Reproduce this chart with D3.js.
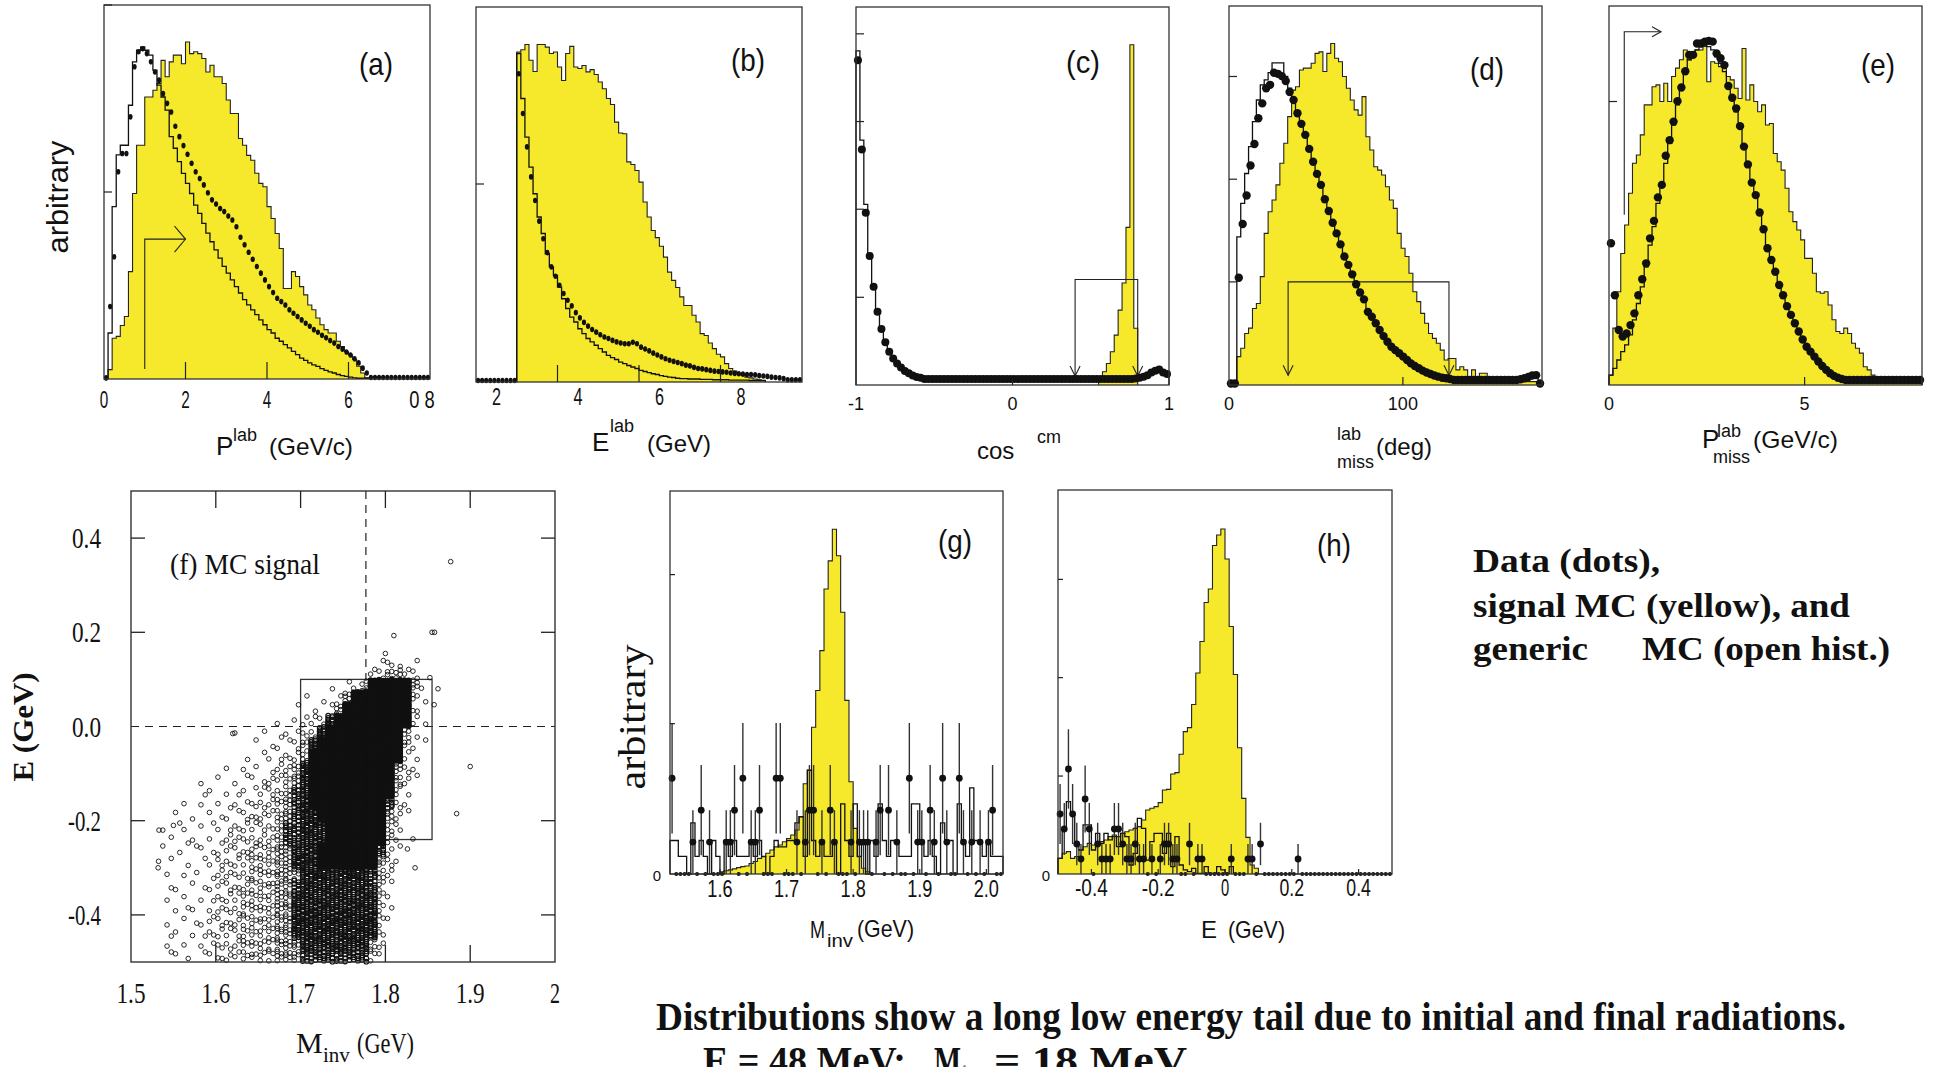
<!DOCTYPE html>
<html>
<head>
<meta charset="utf-8">
<script src="https://cdn.jsdelivr.net/npm/d3@7"></script>
<style>body{margin:0;background:#fff}</style>
</head>
<body>
<svg id="chart" width="1933" height="1067"></svg>
<script>
// ---- data: top row (heights in arbitrary units, 0-100 = frame height) ----
var aSignalX0 = 0.1, aStep = 0.1;
var aSignal = [2.5,10.9,11.4,14.3,16.7,28.7,49.6,62.5,62.5,75.4,75.4,77.2,79.0,85.2,80.8,84.8,86.6,86.6,84.3,90.1,87.0,87.5,87.0,85.7,82.1,83.9,80.8,80.8,79.0,74.6,71.0,71.0,64.3,62.5,59.8,58.5,55.0,52.3,51.4,46.1,42.9,38.9,34.9,24.2,24.2,28.7,27.4,24.7,22.5,19.8,18.5,16.3,14.5,13.2,12.3,12.3,10.1,8.7,7.3,6.4,5.2,3.4,1.6,0.3];
var aGeneric = [12.3,46.1,59.9,62.5,62.5,73.2,84.8,87.9,88.8,87.9,86.6,82.6,78.6,75.4,71.9,64.8,61.7,58.1,55.0,52.3,49.6,46.5,44.3,41.6,39.0,36.7,34.5,32.3,30.1,28.3,26.5,24.7,23.0,21.2,19.8,18.5,17.2,15.8,14.5,13.2,12.3,10.9,10.1,9.2,8.3,7.4,6.5,5.6,5.0,4.3,3.8,3.4,2.8,2.3,1.9,1.6,1.2,0.9,0.7,0.5,0.3,0.2,0.2,0.2];
var aDataX0 = 0;
var aData = [0.3,19.4,32.7,55.4,60.3,60.3,70.1,83.5,87.5,88.3,87.0,84.8,82.1,79.9,76.3,73.7,71.4,67.6,64.8,62.4,60.1,57.7,55.4,53.6,51.9,49.8,47.9,46.8,45.6,44.8,43.6,42.5,40.7,37.9,35.9,33.9,32.0,30.1,28.3,26.5,24.7,23.1,21.6,20.7,19.8,18.5,17.6,16.7,15.8,14.9,14.1,13.2,12.5,11.7,11.0,10.3,9.6,8.7,8.0,7.2,6.4,5.4,4.3,2.9,1.6,0.4,0.4,0.4,0.4,0.4,0.4,0.4,0.4,0.4,0.4,0.4,0.4,0.4,0.4,0.4];
var aTickVals = [0,2,4,6,8], aTickText = ['0','2','4','6','0 8'];

var bSignalX0 = 2.5, bStep = 0.1;
var bSignal = [88.0,88.6,90.0,85.8,82.8,90.0,90.0,89.3,87.6,88.0,84.0,80.4,87.6,89.5,84.0,83.6,84.4,82.7,83.3,82.0,80.0,78.2,75.6,74.0,69.3,66.4,66.2,58.7,58.0,56.4,53.3,48.0,44.0,40.4,38.5,36.2,33.3,29.3,27.1,25.2,22.7,20.4,20.4,17.8,16.0,12.9,12.4,10.4,8.9,7.4,6.7,4.9,3.6,2.9,2.2,1.8,1.3,1.1,0.8,0.6,0.4];
var bGeneric = [87.6,75.6,65.3,57.3,50.2,44.0,39.6,34.2,30.7,28.4,25.3,22.2,19.6,17.3,16.0,14.2,12.9,11.6,10.7,9.8,8.9,8.0,7.1,6.5,6.0,5.3,4.9,4.4,4.0,3.6,3.1,2.8,2.5,2.2,2.0,1.7,1.5,1.3,1.2,1.0,0.9,0.9,0.8,0.8,0.8,0.7,0.7,0.7,0.6,0.6,0.6,0.6,0.5,0.5,0.5,0.5,0.5,0.4,0.4,0.4,0.4];
var bDataX0 = 1.5;
var bData = [0.4,0.4,0.4,0.4,0.4,0.4,0.4,0.4,0.4,0.4,82.2,71.6,62.7,54.7,48.4,42.9,38.2,34.5,30.7,28.2,25.8,23.6,21.8,20.3,18.5,17.1,15.9,14.9,14.0,13.3,12.6,12.0,11.6,11.1,10.7,10.4,10.2,10.2,10.6,10.2,9.3,8.8,8.3,7.7,7.2,6.7,6.2,5.8,5.5,5.2,4.9,4.5,4.3,3.9,3.6,3.5,3.3,3.1,2.9,2.8,2.7,2.6,2.4,2.3,2.2,2.1,2.0,2.0,1.9,1.7,1.6,1.5,1.3,1.2,1.1,0.9,0.6,0.6,0.6,0.6];
var bTickVals = [2,4,6,8], bTickText = ['2','4','6','8'];

var cX0 = -1, cStep = 0.025;
var cGeneric = [88.4,64.8,47.8,34.8,25.8,19.4,14.5,11.0,8.8,7.0,5.7,4.6,3.7,3.1,2.6,2.2,1.9,1.8,1.5,1.5,1.5,1.5,1.5,1.5,1.5,1.5,1.5,1.5,1.5,1.5,1.5,1.5,1.5,1.5,1.5,1.5,1.5,1.5,1.5,1.5,1.5,1.5,1.5,1.5,1.5,1.5,1.5,1.5,1.5,1.5,1.5,1.5,1.5,1.5,1.5,1.5,1.5,1.5,1.5,1.5,1.5,1.5,1.5,1.5,1.5,1.5,1.5,1.5,1.5,1.6,1.6,1.7,1.9,2.2,2.6,3.3,3.8,4.1,3.3,2.9];
var cData = [85.9,62.3,45.6,34.1,26.0,19.4,14.8,11.3,8.8,7.0,5.7,4.6,3.7,3.1,2.5,2.1,1.9,1.6,1.6,1.6,1.6,1.6,1.6,1.6,1.6,1.6,1.6,1.6,1.6,1.6,1.6,1.6,1.6,1.6,1.6,1.6,1.6,1.6,1.6,1.6,1.6,1.6,1.6,1.6,1.6,1.6,1.6,1.6,1.6,1.6,1.6,1.6,1.6,1.6,1.6,1.6,1.6,1.6,1.6,1.6,1.6,1.6,1.6,1.6,1.6,1.6,1.6,1.6,1.6,1.6,1.6,1.7,1.9,2.2,2.6,3.3,3.8,4.1,3.3,2.9];
var cSignalX0 = 0.55;
var cSignal = [1.8,3.5,5.7,8.8,13.2,19.8,27.0,41.7,90.0,15.0];
var cTickVals = [-1,0,1], cTickText = ['-1','0','1'];

var dStep = 2.25;
var dGeneric = [0,0,39.1,47.9,55.8,62.9,69.5,75.2,79.2,80.5,82.4,85.0,85.0,85.0,81.4,78.3,75.2,71.7,68.6,65.5,62.0,58.7,55.4,52.3,48.8,45.7,42.7,39.8,36.9,33.9,31.4,29.0,26.4,24.2,22.4,19.3,17.9,16.1,14.3,12.8,11.3,10.0,9.1,8.3,7.4,6.5,5.6,4.9,4.3,3.7,3.2,2.8,2.4,2.1,1.8,1.7,1.4,1.4,1.4,1.4,1.4,1.4,1.4,1.4,1.4,1.4,1.4,1.4,1.4,1.4,1.4,1.4,1.4,1.4,1.5,1.8,2.1,2.5,2.6,0.4];
var dData = [0.4,0.4,28.3,42.5,50.0,57.9,63.6,70.4,74.3,78.3,79.2,82.4,82.1,81.5,80.2,77.3,75.2,71.7,68.9,66.0,62.3,58.9,55.7,52.8,49.0,45.9,42.8,40.0,37.1,33.9,31.7,29.2,26.6,24.4,22.6,19.3,18.0,16.3,14.5,12.9,11.4,10.1,9.2,8.4,7.5,6.6,5.7,5.0,4.4,3.8,3.3,2.9,2.5,2.2,1.9,1.8,1.6,1.3,1.3,1.3,1.3,1.3,1.3,1.3,1.3,1.3,1.3,1.3,1.3,1.3,1.3,1.3,1.3,1.3,1.5,1.8,2.1,2.5,2.6,0.4];
var dSignal = [0,0,7.5,9.7,13.6,15.0,20.2,21.5,28.6,40.0,45.7,48.8,52.8,58.5,63.8,70.8,77.8,78.7,83.1,83.6,83.6,84.9,87.5,87.9,82.7,87.5,90.1,86.2,85.3,81.4,78.3,75.2,72.6,71.2,76.1,65.5,62.0,57.6,56.7,55.4,52.3,48.8,46.6,40.0,36.1,33.9,29.5,24.6,22.0,18.9,16.3,13.6,12.3,11.0,9.2,6.6,7.0,7.0,4.0,4.8,4.0,2.2,4.0,1.8,3.1,3.1,1.8,0.9,0.9,0.9,0.9,0.9,0.9,0.9,0.9,0.9,0.9,0.9,0.9,0.9];
var dTickVals = [0,100], dTickText = ['0','100'];

var eStep = 0.1;
var eGeneric = [2.6,4.4,6.6,8.8,10.6,13.2,17.2,21.5,25.9,31.2,36.9,41.8,47.9,52.3,58.5,63.8,68.6,73.9,77.8,82.2,85.8,87.5,88.4,89.3,89.7,89.3,88.4,86.6,84.9,82.7,78.3,75.2,72.1,67.7,62.4,57.6,53.2,49.7,45.3,40.9,36.1,32.8,29.7,26.2,23.6,20.7,18.3,16.1,13.9,11.9,9.9,8.6,7.3,6.0,4.8,3.8,2.9,2.2,1.8,1.5,1.3,1.3,1.3,1.3,1.3,1.3,1.3,1.3,1.3,1.3,1.3,1.3,1.3,1.3,1.3,1.3,1.3,1.3,1.3,1.3];
var eData = [37.4,23.7,14.5,12.8,13.6,15.8,18.9,23.7,27.9,32.1,38.7,43.3,49.5,52.8,60.5,64.6,69.5,74.9,78.5,82.8,87.1,87.1,90.1,90.1,90.6,90.8,90.6,87.5,86.2,84.4,78.9,75.8,73.0,68.3,62.9,58.2,53.4,50.1,45.5,41.1,36.1,33.0,29.9,26.4,23.7,20.8,18.5,16.3,14.1,12.0,10.1,8.8,7.5,6.2,5.0,4.0,3.1,2.4,1.9,1.6,1.3,1.3,1.3,1.3,1.3,1.3,1.3,1.3,1.3,1.3,1.3,1.3,1.3,1.3,1.3,1.3,1.3,1.3,1.3,1.3];
var eSignal = [2.6,15.0,24.6,34.7,42.2,50.6,58.5,60.7,66.0,73.9,73.9,78.7,79.2,74.8,79.6,74.8,81.4,83.6,85.8,88.4,85.8,87.9,88.4,88.4,89.3,80.0,85.3,84.9,84.0,84.0,81.4,80.5,78.3,75.6,88.8,75.2,79.2,74.8,72.1,73.9,68.6,69.0,61.1,58.9,56.7,51.9,45.7,43.1,40.9,38.3,33.4,33.4,29.5,24.6,24.2,24.6,21.1,17.2,14.1,13.6,15.0,13.6,11.0,9.7,8.4,4.8,4.0,2.6,1.0,1.0,1.0,1.0,1.0,1.0,1.0,1.0,1.0,1.0,1.0,1.0];
var eTickVals = [0,5], eTickText = ['0','5'];

// ---- data: (g) M_inv and (h) delta E, in entries per bin ----
var gX0 = 1.525, gStep = 0.00625;
var gSignal = [0,0,0,0,0,0,0,0,0,0,0,0,0.07,0.1,0.13,0.16,0.2,0.23,0.25,0.33,0.39,0.49,0.54,0.65,0.75,0.85,0.91,1.01,1.11,1.22,1.38,1.79,2.83,3.25,4.6,5.75,7.0,8.93,9.81,10.8,9.97,8.2,5.44,2.89,1.43,0.54,0.18,0.07,0,0,0,0,0,0,0,0,0,0,0,0,0,0,0,0,0,0,0,0,0,0,0,0,0,0,0,0,0,0,0,0];
var gGeneric = [1.05,1.05,0.55,0.55,0,1.6,0.55,1.05,0.55,0,1.05,0.55,0,1.05,0.55,1.05,0.55,0.55,0.55,1.05,0.55,1.05,0.55,0,0.55,1.05,0.85,0.85,1.05,1.05,1.6,1.8,0.55,3.25,1.05,0.55,1.05,0.55,0.55,1.05,0,2.2,1.05,0.55,2.2,0.55,1.05,0,1.05,0.55,2.2,1.05,0.55,1.05,1.05,0.55,0.55,0.55,2.2,2.2,1.05,0.55,1.05,0.55,0,1.6,1.05,1.05,0,2.2,1.05,0.55,2.7,1.05,1.05,0.55,1.05,0.55,0.55,0.55];
var gData = [3,0,0,0,0,1,0,2,0,1,0,0,0,1,1,2,0,3,0,1,1,2,0,0,0,3,3,0,0,0,1,0,1,2,2,0,1,0,2,1,0,0,0,1,0,1,1,1,0,1,2,0,2,0,1,0,0,3,0,1,1,0,2,1,0,3,1,0,0,3,1,0,1,0,1,0,1,2,0,0];
var gTickVals = [1.6,1.7,1.8,1.9,2.0], gTickText = ['1.6','1.7','1.8','1.9','2.0'];

var hX0 = -0.5, hStep = 0.0125;
var hSignal = [1.04,1.38,1.49,1.04,1.16,1.6,1.82,2.04,1.93,2.16,2.16,2.27,2.49,2.6,2.49,2.71,2.82,2.93,3.04,3.16,3.6,4.27,4.38,4.49,4.76,5.6,5.64,6.67,6.76,7.98,9.49,9.76,11.3,13.4,15.5,18.1,19.0,21.9,22.6,23.0,21.0,16.5,13.3,8.42,5.04,2.44,0.6,0.38,0,0,0,0,0,0,0,0,0,0,0,0,0,0,0,0,0,0,0,0,0,0,0,0,0,0,0,0,0,0,0,0];
var hGeneric = [1.04,3.04,4.82,3.93,2.04,1.6,3.27,3.27,1.6,2.71,2.04,2.71,2.27,2.49,1.82,2.71,2.49,0.6,1.38,3.71,3.04,0.93,2.16,2.71,2.71,1.38,2.71,0.49,2.49,0.6,0.27,0.16,0.38,0.04,0.04,0.49,0.04,0.04,0.49,0.27,0.04,0.49];
var hData = [4,3,7,4,2,1,5,3,0,2,1,1,1,3,3,2,1,1,2,1,1,0,1,0,1,2,2,1,1,0,0,2,0,1,1,0,0,0,0,0,0,1,0,0,0,1,1,0,2,0,0,0,0,0,0,0,0,1,0,0,0,0,0,0,0,0,0,0,0,0,0,0,0,0,0,0,0,0,0,0];
var hTickVals = [-0.4,-0.2,0,0.2,0.4], hTickText = ['-0.4','-0.2','0','0.2','0.4'];

// ---- data: (f) MC signal scatter, density level per cell (0.01 GeV wide, 0.025 GeV tall),
//      columns from M=1.50 to 1.90, rows from E=+0.15 downwards ----
var fRows = [
  ['0000000000','0000000000','0000000001','2101000000'],
  ['0000000000','0000000000','0000000033','5533010000'],
  ['0000000000','0000000000','0001011599','9996100000'],
  ['0000000000','0000000000','1010169999','9994100000'],
  ['0000000000','0000000001','0101699999','9993010000'],
  ['0000000000','0000000101','2238999999','9992100000'],
  ['0000000000','0010010111','3389999999','9951000000'],
  ['0000000000','0000101112','4899999999','9941100000'],
  ['0000000000','0001011123','5999999999','9931000000'],
  ['0000000000','0101101235','8999999999','9621000000'],
  ['0000000010','1011112246','8999999999','9521000000'],
  ['0000000011','0111122357','8999999999','9410000000'],
  ['0000001010','1111222467','8999999999','7310000000'],
  ['0000010101','1112223567','8899999999','6210000000'],
  ['0001011011','1122233577','8889999999','5200000000'],
  ['0000101101','1222333577','8889999999','4101000000'],
  ['0001010111','1222444668','8899999997','3100000000'],
  ['0001101011','2222444668','8899999996','2100000000'],
  ['0000101101','2222444666','8888888875','2000000000'],
  ['0000110111','2223444667','8888888874','1000000000'],
  ['0000101011','2224444668','8888888884','1000000000'],
  ['0000011101','2224444668','8888888883','1000000000'],
  ['0000101112','2224444668','8888888884','1000000000'],
  ['0000110112','2224444668','8888888883','0000000000'],
  ['0000101011','2224444666','8888888852','0000000000'],
  ['0000111011','2224444666','7777777741','0000000000']
].map(function(g) { return g.join(''); });
var fPerLevel = [0,1,2,2,3,4,5,8,12,16];
var fOutliers = [[1.877,0.35],[1.855,0.2],[1.858,0.2],[1.81,0.193],[1.80,0.155],[1.862,0.08],[1.90,-0.085],[1.884,-0.185],[1.62,-0.015],[1.533,-0.22],[1.532,-0.3],[1.55,-0.21],[1.835,-0.3],[1.826,-0.26]];
var fXTickVals = [1.5,1.6,1.7,1.8,1.9,2], fXTickText = ['1.5','1.6','1.7','1.8','1.9','2'];
var fYTickVals = [-0.4,-0.2,0,0.2,0.4], fYTickText = ['-0.4','-0.2','0.0','0.2','0.4'];
// fixed in-cell vertical offsets (fraction of a marker row) so markers do not sit on a lattice
var fShift = [0.15,-0.3,0.35,-0.1,0.25,-0.35,0.05,0.3,-0.2,0.4,-0.05,0.2];

var SANS = "'Liberation Sans', Arial, sans-serif";
var SERIF = "'Liberation Serif', 'Times New Roman', serif";
var YELLOW = '#f6e92b';
var INK = '#111';

var svg = d3.select('#chart');
svg.append('rect').attr('width', 1933).attr('height', 1067).attr('fill', '#fff');

function scales(box, xdom, ydom) {
  return {
    x: d3.scaleLinear().domain(xdom).range([box[0], box[2]]),
    y: d3.scaleLinear().domain(ydom).range([box[3], box[1]])
  };
}

function stepPath(s, x0, w, vals) {
  var p = 'M' + s.x(x0) + ',' + s.y(0);
  vals.forEach(function(v, i) {
    p += 'L' + s.x(x0 + i * w) + ',' + s.y(v) + 'L' + s.x(x0 + (i + 1) * w) + ',' + s.y(v);
  });
  p += 'L' + s.x(x0 + vals.length * w) + ',' + s.y(0);
  return p;
}

function label(x, y, str, size, opt) {
  opt = opt || {};
  var t = svg.append('text').attr('x', x).attr('y', y).text(str)
    .attr('font-family', opt.serif ? SERIF : SANS)
    .attr('font-size', size)
    .attr('font-weight', opt.bold ? 'bold' : 'normal')
    .attr('text-anchor', opt.anchor || 'start')
    .attr('fill', opt.fill || INK);
  if (opt.len) t.attr('textLength', opt.len).attr('lengthAdjust', 'spacingAndGlyphs');
  if (opt.rot) t.attr('transform', 'rotate(-90,' + x + ',' + y + ')');
  return t;
}

function line(g, x1, y1, x2, y2, w, dash) {
  var l = g.append('line').attr('x1', x1).attr('y1', y1).attr('x2', x2).attr('y2', y2)
    .attr('stroke', '#222').attr('stroke-width', w || 1.2);
  if (dash) l.attr('stroke-dasharray', dash);
  return l;
}

function poly(g, d) {
  return g.append('path').attr('d', d).attr('fill', 'none').attr('stroke', '#222').attr('stroke-width', 1.1);
}

// histogram panel: yellow signal MC, open generic MC, data points
function histPanel(p) {
  var s = scales(p.box, p.xdom, p.ydom);
  var g = svg.append('g');
  if (p.signal) {
    g.append('path').attr('d', stepPath(s, p.signal.x0, p.signal.w, p.signal.v))
      .attr('fill', YELLOW).attr('stroke', '#222').attr('stroke-width', 1.1);
  }
  if (p.generic) {
    g.append('path').attr('d', stepPath(s, p.generic.x0, p.generic.w, p.generic.v))
      .attr('fill', 'none').attr('stroke', INK).attr('stroke-width', 1.3);
  }
  if (p.extra) p.extra(g, s);
  if (p.data) {
    var d = p.data;
    if (d.errors) {
      d.v.forEach(function(c, i) {
        if (c <= 0) return;
        var xc = s.x(d.x0 + (i + 0.5) * d.w);
        line(g, xc, s.y(Math.max(0, c - Math.sqrt(c))), xc, s.y(c + Math.sqrt(c)), 1.4).attr('stroke', '#333');
      });
    }
    g.selectAll('ellipse.dot').data(d.v).enter().append('ellipse')
      .attr('class', 'dot')
      .attr('cx', function(v, i) { return s.x(d.x0 + (i + 0.5) * d.w); })
      .attr('cy', function(v) { return s.y(v); })
      .attr('rx', function(v) { return (d.errors && v === 0) ? 2 : d.rx; })
      .attr('ry', function(v) { return (d.errors && v === 0) ? 2 : d.ry; })
      .attr('fill', INK);
  }
  g.append('rect').attr('x', p.box[0]).attr('y', p.box[1])
    .attr('width', p.box[2] - p.box[0]).attr('height', p.box[3] - p.box[1])
    .attr('fill', 'none').attr('stroke', '#333').attr('stroke-width', 1.3);
  (p.yTicks || []).forEach(function(v) { line(g, p.box[0], s.y(v), p.box[0] + p.yTickLen, s.y(v), 1.2); });
  (p.xTicks || []).forEach(function(v) { line(g, s.x(v), p.box[3], s.x(v), p.box[3] - p.xTickLen, 1.2); });
  p.tickVals.forEach(function(v, i) {
    var t = p.tickText[i];
    label(s.x(v) + (p.tickDx ? p.tickDx[i] : 0), p.tickY, t, p.tickSize,
      { anchor: 'middle', len: p.tickCharW ? p.tickCharW * t.length : null });
  });
  if (p.name) label(p.name[1], p.name[2], p.name[0], 32, { anchor: 'middle', len: 34 });
  return s;
}

// ---- (a) ----
histPanel({
  box: [104, 5, 430, 379], xdom: [0, 8], ydom: [0, 100],
  signal: { x0: aSignalX0, w: aStep, v: aSignal },
  generic: { x0: aSignalX0, w: aStep, v: aGeneric },
  data: { x0: aDataX0, w: aStep, v: aData, rx: 2.1, ry: 2.8 },
  yTicks: [50, 100], yTickLen: 8, xTicks: [2, 4, 6], xTickLen: 17,
  tickVals: aTickVals, tickText: aTickText, tickDx: [0, 0, 0, 0, -8], tickY: 408, tickSize: 24, tickCharW: 8.5,
  name: ['(a)', 376, 75],
  extra: function(g, s) {
    var yA = s.y(37.4), xE = s.x(2.0);
    poly(g, 'M' + s.x(1.0) + ',' + s.y(2.7) + 'V' + yA + 'H' + xE);
    poly(g, 'M' + (xE - 11) + ',' + (yA - 13) + 'L' + xE + ',' + yA + 'L' + (xE - 11) + ',' + (yA + 13));
  }
});
label(68, 197, 'arbitrary', 30, { anchor: 'middle', rot: true, len: 113 });
label(216, 455, 'P', 26);
label(233, 441, 'lab', 18);
label(269, 455, '(GeV/c)', 24, { len: 84 });

// ---- (b) ----
histPanel({
  box: [476, 7, 802, 382], xdom: [1.5, 9.5], ydom: [0, 100],
  signal: { x0: bSignalX0, w: bStep, v: bSignal },
  generic: { x0: bSignalX0, w: bStep, v: bGeneric },
  data: { x0: bDataX0, w: bStep, v: bData, rx: 2.1, ry: 2.8 },
  yTicks: [52.8], yTickLen: 8, xTicks: [3.5, 5.5, 7.5], xTickLen: 17,
  tickVals: bTickVals, tickText: bTickText, tickY: 405, tickSize: 24, tickCharW: 9,
  name: ['(b)', 748, 71]
});
label(592, 451, 'E', 26);
label(610, 432, 'lab', 18);
label(647, 452, '(GeV)', 24);

// ---- (c) ----
histPanel({
  box: [856, 7, 1169, 385], xdom: [-1, 1], ydom: [0, 100],
  signal: { x0: cSignalX0, w: cStep, v: cSignal },
  generic: { x0: cX0, w: cStep, v: cGeneric },
  data: { x0: cX0, w: cStep, v: cData, rx: 4, ry: 4 },
  yTicks: [23.2, 46.5, 69.7, 92.9], yTickLen: 8, xTicks: [0], xTickLen: 6,
  tickVals: cTickVals, tickText: cTickText, tickY: 410, tickSize: 18,
  name: ['(c)', 1083, 73],
  extra: function(g, s) {
    var yT = s.y(27.9), yB = s.y(2.4), xl = s.x(0.40), xr = s.x(0.80);
    poly(g, 'M' + xl + ',' + yB + 'V' + yT + 'H' + xr + 'V' + yB);
    [xl, xr].forEach(function(x) {
      poly(g, 'M' + (x - 5) + ',' + (yB - 10) + 'L' + x + ',' + yB + 'L' + (x + 5) + ',' + (yB - 10));
    });
  }
});
label(977, 459, 'cos', 24);
label(1037, 443, 'cm', 18);

// ---- (d) ----
histPanel({
  box: [1229, 6, 1542, 385], xdom: [0, 180], ydom: [0, 100],
  signal: { x0: 0, w: dStep, v: dSignal },
  generic: { x0: 0, w: dStep, v: dGeneric },
  data: { x0: 0, w: dStep, v: dData, rx: 4.2, ry: 4.2 },
  yTicks: [27.2, 54.3, 81.4], yTickLen: 8, xTicks: [100], xTickLen: 8,
  tickVals: dTickVals, tickText: dTickText, tickY: 410, tickSize: 18,
  name: ['(d)', 1487, 80],
  extra: function(g, s) {
    var yT = s.y(27.2), yB = s.y(2.6), xl = s.x(34), xr = s.x(126.5);
    poly(g, 'M' + xl + ',' + yB + 'V' + yT + 'H' + xr + 'V' + yB);
    [xl, xr].forEach(function(x) {
      poly(g, 'M' + (x - 5) + ',' + (yB - 10) + 'L' + x + ',' + yB + 'L' + (x + 5) + ',' + (yB - 10));
    });
  }
});
label(1337, 440, 'lab', 18);
label(1337, 468, 'miss', 18);
label(1376, 455, '(deg)', 24);

// ---- (e) ----
histPanel({
  box: [1609, 6, 1922, 385], xdom: [0, 8], ydom: [0, 100],
  signal: { x0: 0, w: eStep, v: eSignal },
  generic: { x0: 0, w: eStep, v: eGeneric },
  data: { x0: 0, w: eStep, v: eData, rx: 4.2, ry: 4.2 },
  yTicks: [74.8], yTickLen: 8, xTicks: [5], xTickLen: 8,
  tickVals: eTickVals, tickText: eTickText, tickY: 410, tickSize: 18,
  name: ['(e)', 1878, 76],
  extra: function(g, s) {
    var yA = s.y(93.2), xE = s.x(1.33);
    poly(g, 'M' + s.x(0.39) + ',' + s.y(44.9) + 'V' + yA + 'H' + xE);
    poly(g, 'M' + (xE - 9) + ',' + (yA - 5) + 'L' + xE + ',' + yA + 'L' + (xE - 9) + ',' + (yA + 5));
  }
});
label(1702, 448, 'P', 26);
label(1717, 437, 'lab', 18);
label(1713, 463, 'miss', 18);
label(1753, 448, '(GeV/c)', 24, { len: 85 });

// ---- (f) scatter ----
(function() {
  var box = [131, 491, 555, 962];
  var s = scales(box, [1.5, 2.0], [-0.5, 0.5]);
  var g = svg.append('g');
  line(g, s.x(1.5), s.y(0), s.x(2.0), s.y(0), 1.2, '8,6');
  line(g, s.x(1.777), s.y(0.5), s.x(1.777), s.y(0.04), 1.2, '8,6');
  g.append('rect').attr('x', s.x(1.70)).attr('y', s.y(0.10))
    .attr('width', s.x(1.855) - s.x(1.70)).attr('height', s.y(-0.24) - s.y(0.10))
    .attr('fill', 'none').attr('stroke', '#333').attr('stroke-width', 1.3);

  var cw = 0.01, ch = 0.025, top = 0.15;
  var pts = [];
  fRows.forEach(function(row, r) {
    var yTop = top - ch * r;
    for (var c = 0; c < row.length; c++) {
      var lev = +row[c], n = fPerLevel[lev];
      if (!n) continue;
      var x0 = 1.5 + cw * c;
      var nr = Math.ceil(n / 2);
      for (var i = 0; i < n; i++) {
        var col = (n < 3) ? (r + c + i) % 2 : i % 2;
        var k = (n < 3) ? 0 : Math.floor(i / 2);
        var rows = (n < 3) ? 1 : nr;
        var sh = fShift[(r * 5 + c * 3 + i) % fShift.length];
        pts.push({ x: x0 + cw * (0.25 + 0.5 * col), y: yTop - ch * (k + 0.5 + sh) / rows, lev: lev });
      }
    }
  });
  fOutliers.forEach(function(p) { pts.push({ x: p[0], y: p[1], lev: 1 }); });
  g.selectAll('circle.pt').data(pts).enter().append('circle')
    .attr('cx', function(d) { return s.x(d.x); })
    .attr('cy', function(d) { return s.y(d.y); })
    .attr('r', 2.3)
    .attr('fill', function(d) { return d.lev === 9 ? INK : 'none'; })
    .attr('stroke', INK)
    .attr('stroke-width', function(d) { return d.lev >= 7 ? 1.15 : 0.9; });

  g.append('rect').attr('x', box[0]).attr('y', box[1]).attr('width', box[2] - box[0]).attr('height', box[3] - box[1])
    .attr('fill', 'none').attr('stroke', '#333').attr('stroke-width', 1.4);
  [1.6, 1.7, 1.8, 1.9].forEach(function(v) {
    line(g, s.x(v), box[1], s.x(v), box[1] + 17, 1.3);
    line(g, s.x(v), box[3], s.x(v), box[3] - 17, 1.3);
  });
  [-0.4, -0.2, 0.2, 0.4].forEach(function(v) {
    line(g, box[0], s.y(v), box[0] + 14, s.y(v), 1.3);
    line(g, box[2], s.y(v), box[2] - 14, s.y(v), 1.3);
  });
  fXTickVals.forEach(function(v, i) {
    var t = fXTickText[i];
    label(s.x(v), 1003, t, 30, { serif: true, anchor: 'middle', len: t.length > 1 ? 29 : 10 });
  });
  fYTickVals.forEach(function(v, i) {
    var t = fYTickText[i];
    label(101, s.y(v) + 10, t, 30, { serif: true, anchor: 'end', len: t.length > 3 ? 33 : 29 });
  });
  label(170, 574, '(f)  MC signal', 30, { serif: true, len: 150 });
  label(33, 727, 'E (GeV)', 29, { serif: true, bold: true, anchor: 'middle', rot: true, len: 109 });
  label(296, 1053, 'M', 30, { serif: true });
  label(323, 1062, 'inv', 21, { serif: true });
  label(357, 1053, '(GeV)', 30, { serif: true, len: 57 });
})();

// ---- (g) ----
histPanel({
  box: [670, 491, 1003, 874], xdom: [1.525, 2.025], ydom: [0, 12],
  signal: { x0: gX0, w: gStep, v: gSignal },
  generic: { x0: gX0, w: gStep, v: gGeneric },
  data: { x0: gX0, w: gStep, v: gData, rx: 3.4, ry: 3.4, errors: true },
  yTicks: [4.71, 9.38], yTickLen: 5, xTicks: gTickVals, xTickLen: 5,
  tickVals: gTickVals, tickText: gTickText, tickY: 897, tickSize: 24, tickCharW: 8.4,
  name: ['(g)', 955, 552]
});
label(657, 881, '0', 15, { anchor: 'middle' });
label(645, 717, 'arbitrary', 38, { serif: true, anchor: 'middle', rot: true, len: 145 });
label(810, 938, 'M', 24, { len: 15 });
label(827, 947, 'inv', 18, { len: 26 });
label(857, 937, '(GeV)', 24, { len: 57 });

// ---- (h) ----
histPanel({
  box: [1058, 490, 1392, 874], xdom: [-0.5, 0.5], ydom: [0, 25.6],
  signal: { x0: hX0, w: hStep, v: hSignal },
  generic: { x0: hX0, w: hStep, v: hGeneric },
  data: { x0: hX0, w: hStep, v: hData, rx: 3.4, ry: 3.4, errors: true },
  yTicks: [6.53, 13.09, 19.64], yTickLen: 5, xTicks: hTickVals, xTickLen: 5,
  tickVals: hTickVals, tickText: hTickText, tickY: 896, tickSize: 24, tickCharW: 8.2,
  name: ['(h)', 1334, 556]
});
label(1046, 881, '0', 15, { anchor: 'middle' });
label(1201, 938, 'E', 24);
label(1228, 938, '(GeV)', 24, { len: 57 });

// ---- notes ----
label(1473, 572, 'Data (dots),', 33, { serif: true, bold: true, len: 187 });
label(1473, 617, 'signal MC (yellow), and', 33, { serif: true, bold: true, len: 377 });
label(1473, 660, 'generic', 33, { serif: true, bold: true, len: 115 });
label(1642, 660, 'MC (open hist.)', 33, { serif: true, bold: true, len: 248 });
label(656, 1030, 'Distributions show a long low energy tail due to initial and final radiations.', 40, { serif: true, bold: true, len: 1190 });
label(703, 1074, 'E = 48 MeV;', 40, { serif: true, bold: true, len: 203 });
label(934, 1074, 'M', 40, { serif: true, bold: true, len: 27 });
label(962, 1080, 'inv', 22, { serif: true, bold: true, fill: '#888', len: 24 });
label(994, 1074, '= 18 MeV', 40, { serif: true, bold: true, len: 193 });
</script>
</body>
</html>
